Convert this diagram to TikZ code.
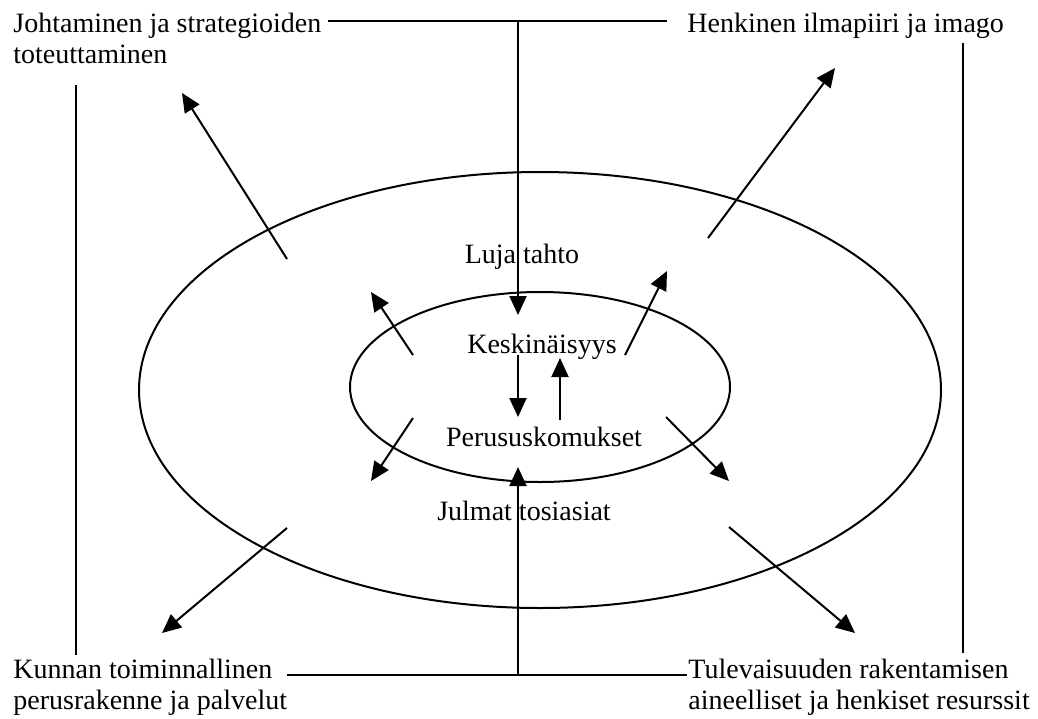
\documentclass[tikz,border=0pt]{standalone}
\usepackage{fontspec}
\setmainfont{Liberation Serif}
\usetikzlibrary{arrows.meta}

\tikzset{
  txt/.style={font=\fontsize{14}{15.5}\selectfont,inner sep=0pt},
  rim/.style={line width=1pt},
  flow/.style={line width=1pt,-{Triangle[length=9.5pt,width=8.5pt]}},
}

\begin{document}
\begin{tikzpicture}[x=0.5pt,y=-0.5pt]
  \useasboundingbox (0,0) rectangle (1038,718);

  % The two rings
  \draw[rim] (540,390) ellipse [x radius=401, y radius=218];
  \draw[rim] (540,387) ellipse [x radius=190, y radius=95];

  % Corner texts
  \node[txt,anchor=north west,align=left] (johto) at (13,13) {Johtaminen ja strategioiden\\toteuttaminen};
  \node[txt,anchor=base west] (henki) at (687,32) {Henkinen ilmapiiri ja imago};
  \node[txt,anchor=north west,align=left] (kunta) at (13,659) {Kunnan toiminnallinen\\perusrakenne ja palvelut};
  \node[txt,anchor=north west,align=left] (tulev) at (688,659) {Tulevaisuuden rakentamisen\\aineelliset ja henkiset resurssit};

  % Texts in the rings
  \node[txt,anchor=base] (tahto) at (522,263) {Luja tahto};
  \node[txt,anchor=base] (keski) at (542,353) {Keskinäisyys};
  \node[txt,anchor=base] (perus) at (544,446) {Perususkomukset};
  \node[txt,anchor=base] (julma) at (524,520) {Julmat tosiasiat};

  % Frame lines
  \coordinate (topL) at (328,21);
  \coordinate (topM) at (518,21);
  \coordinate (topR) at (667,21);
  \coordinate (botL) at (287,675);
  \coordinate (botM) at (518,675);
  \coordinate (botR) at (687,675);
  \coordinate (leftA) at (76,85);
  \coordinate (leftB) at (76,655);
  \coordinate (rightA) at (963,43);
  \coordinate (rightB) at (963,653);
  \draw[rim] (topL) -- (topR);
  \draw[rim] (botL) -- (botR);
  \draw[rim] (leftA) -- (leftB);
  \draw[rim] (rightA) -- (rightB);

  % Vertical arrows
  \coordinate (downTip) at (518,315);
  \coordinate (upTip) at (518,467);
  \coordinate (midA) at (518,355);
  \coordinate (midB) at (518,417);
  \coordinate (midC) at (560,420);
  \coordinate (midD) at (560,358);
  \draw[flow] (topM) -- (downTip);
  \draw[flow] (botM) -- (upTip);
  \draw[flow] (midA) -- (midB);
  \draw[flow] (midC) -- (midD);

  % Diagonal arrows
  \foreach \xa/\ya/\xb/\yb [count=\i] in {287/259/182/93, 413/355/371/292, 625/355/667/271, 708/238/835/68,
      413/418/371/481, 287/528/162/633, 666/417/729/481, 729/527/855/633} {
    \coordinate (s\i) at (\xa,\ya);
    \coordinate (e\i) at (\xb,\yb);
    \draw[flow] (s\i) -- (e\i);
  }
\end{tikzpicture}
\end{document}
